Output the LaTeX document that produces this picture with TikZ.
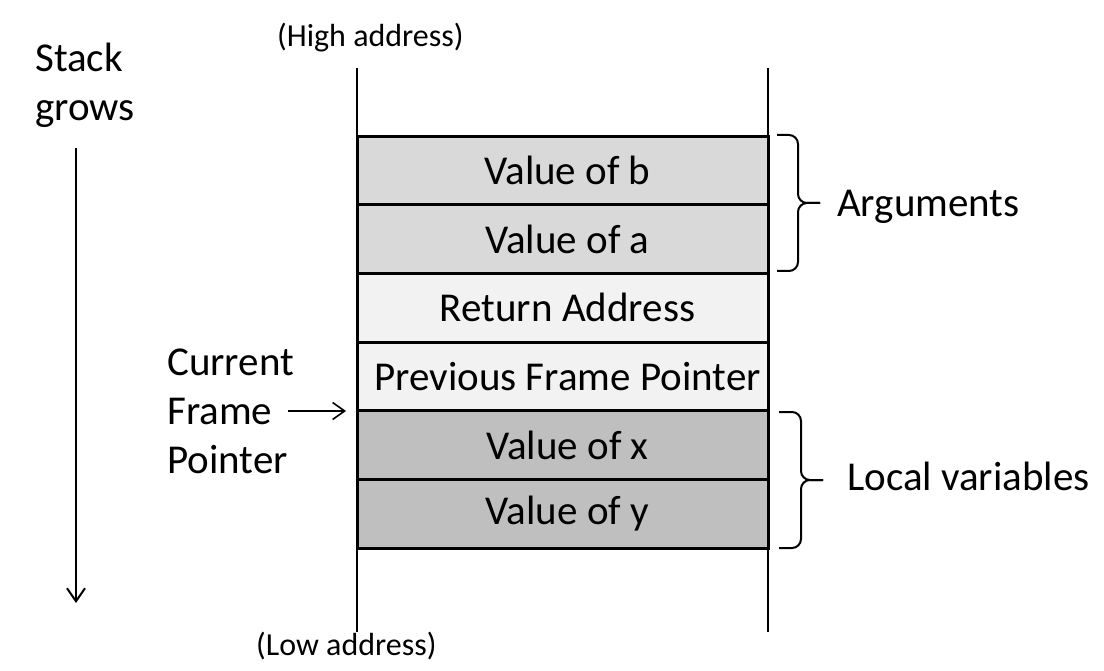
\documentclass[tikz,border=0pt]{standalone}
\usepackage{fontspec}
\setmainfont{Carlito}
\usetikzlibrary{arrows.meta}
\definecolor{argfill}{HTML}{D9D9D9}
\definecolor{midfill}{HTML}{F2F2F2}
\definecolor{locfill}{HTML}{BFBFBF}
\begin{document}
\begin{tikzpicture}[x=1pt,y=-1pt,
  cell/.style={draw=black, line width=3pt, minimum width=411pt, minimum height=68.7pt, inner sep=0pt, font=\fontsize{41}{48}\selectfont, execute at begin node={\hspace*{10pt}}},
  lbl/.style={anchor=base west, inner sep=0pt, align=left, font=\fontsize{41}{49}\selectfont},
  addr/.style={anchor=base west, inner sep=0pt, font=\fontsize{32}{38}\selectfont},
  thin/.style={line width=2pt},
  brc/.style={line width=2pt, rounded corners=9pt}]
\useasboundingbox (0,0) rectangle (1104,671);
% stack walls
\coordinate (lt) at (357,68);
\coordinate (lb) at (357,632);
\coordinate (rt) at (768,68);
\coordinate (rb) at (768,632);
\draw[thin] (lt) -- (lb);
\draw[thin] (rt) -- (rb);
% cells
\node[cell, fill=argfill] (b) at (562.5,170.5) {Value of b};
\node[cell, fill=argfill] (a) at (562.5,239.2) {Value of a};
\node[cell, fill=midfill] (ret) at (562.5,307.9) {Return Address};
\node[cell, fill=midfill] (pfp) at (562.5,376.6) {Previous Frame Pointer};
\node[cell, fill=locfill] (x) at (562.5,445.3) {Value of x};
\node[cell, fill=locfill] (y) at (562.5,514.0) {Value of y};
% labels
\node[addr] (high) at (277,47) {(High address)};
\node[addr] (low) at (256,655) {(Low address)};
\node[lbl] (sg) at (35,121) {Stack\\grows};
\node[lbl] (cfp) at (167,473) {Current\\Frame\\Pointer};
\node[lbl] (args) at (837,217) {Arguments};
\node[lbl] (locs) at (847,490) {Local variables};
% stack grows arrow
\coordinate (gs) at (76,148);
\coordinate (ge) at (76,603);
\draw[thin, -{Straight Barb[length=13pt,width=18pt]}] (gs) -- (ge);
% current frame pointer arrow
\coordinate (fs) at (288,411);
\coordinate (fe) at (346,411);
\draw[line width=1.6pt, -{Straight Barb[length=12pt,width=17pt]}] (fs) -- (fe);
% braces
\draw[brc] (777,135) -- (798,135) -- (798,203) -- (820,203);
\draw[brc] (777,271) -- (798,271) -- (798,203) -- (820,203);
\draw[brc] (779,412) -- (801,412) -- (801,480) -- (823,480);
\draw[brc] (779,548) -- (801,548) -- (801,480) -- (823,480);
\end{tikzpicture}
\end{document}
